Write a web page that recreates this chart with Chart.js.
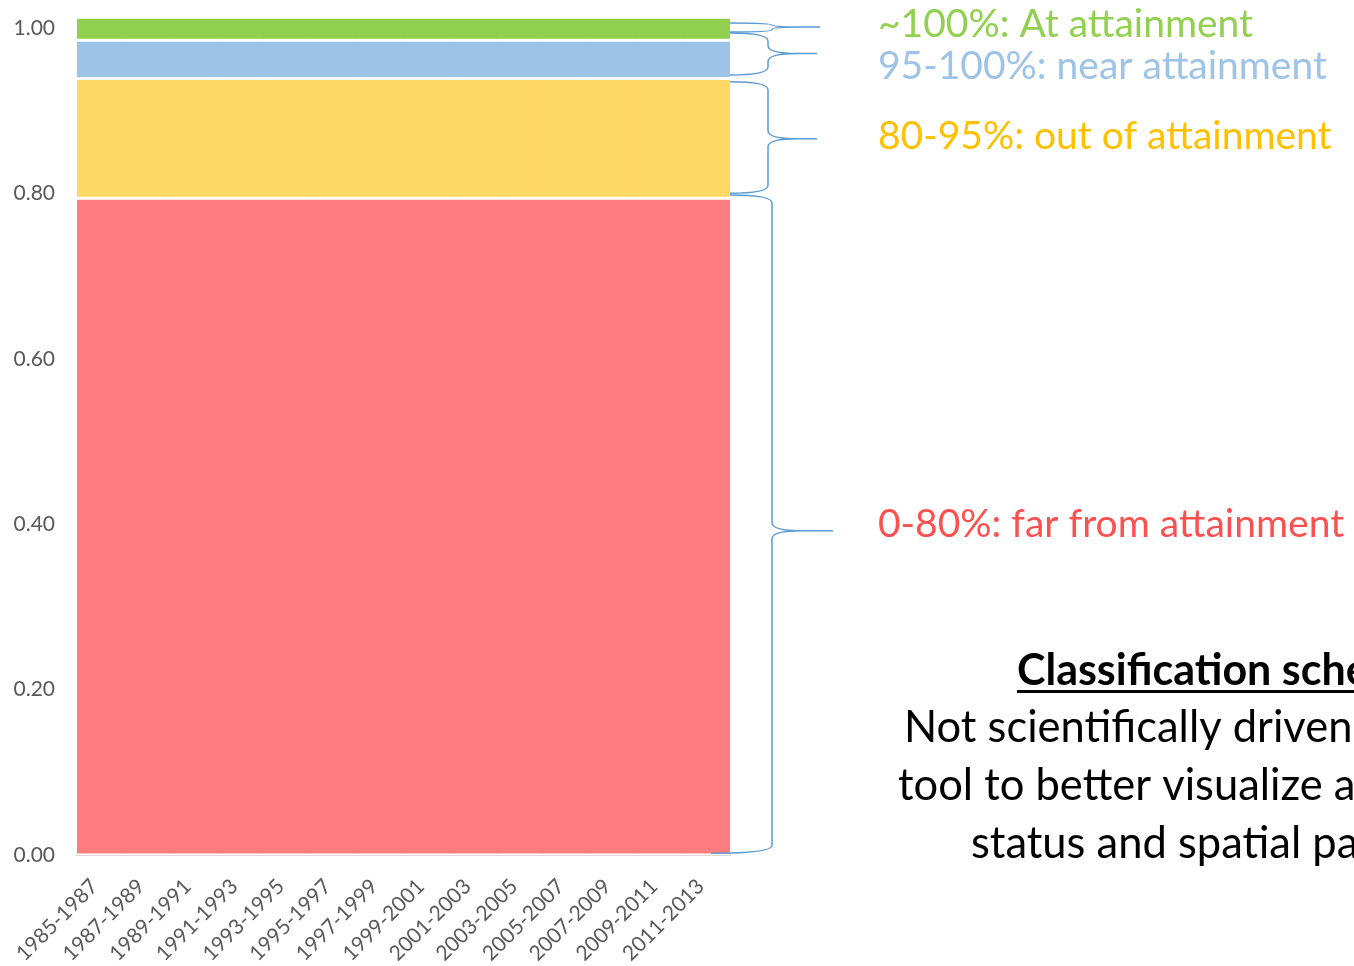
<!DOCTYPE html>
<html>
<head>
<meta charset="utf-8">
<script src="https://cdn.jsdelivr.net/npm/chart.js@4"></script>
<style>
  html, body { margin: 0; padding: 0; background: #ffffff; }
  #wrap { width: 1354px; height: 966px; position: relative; }
</style>
</head>
<body>
<div id="wrap"><canvas id="c" width="1354" height="966"></canvas></div>
<script>
// Two-year periods on the x axis
const periods = [
  '1985-1987', '1987-1989', '1989-1991', '1991-1993', '1993-1995',
  '1995-1997', '1997-1999', '1999-2001', '2001-2003', '2003-2005',
  '2005-2007', '2007-2009', '2009-2011', '2011-2013'
];

// Stacked class bands (fraction of attainment), bottom to top
const farFromAttainment = [0.794, 0.794, 0.794, 0.794, 0.794, 0.794, 0.794, 0.794, 0.794, 0.794, 0.794, 0.794, 0.794, 0.794];
const outOfAttainment   = [0.145, 0.145, 0.145, 0.145, 0.145, 0.145, 0.145, 0.145, 0.145, 0.145, 0.145, 0.145, 0.145, 0.145];
const nearAttainment    = [0.046, 0.046, 0.046, 0.046, 0.046, 0.046, 0.046, 0.046, 0.046, 0.046, 0.046, 0.046, 0.046, 0.046];
const atAttainment      = [0.028, 0.028, 0.028, 0.028, 0.028, 0.028, 0.028, 0.028, 0.028, 0.028, 0.028, 0.028, 0.028, 0.028];

// Value-axis tick marks
const yTickValues = [0, 0.2, 0.4, 0.6, 0.8, 1.0];

// Brace spans on the value axis (from, to, tip) for each class
const braceFrom = [1.006, 0.994, 0.935, 0.798];
const braceTo   = [0.995, 0.943, 0.800, 0.002];
const braceTip  = [1.001, 0.969, 0.866, 0.392];

// Class captions beside the braces
const classLabels = [
  '~100%: At attainment',
  '95-100%: near attainment',
  '80-95%: out of attainment',
  '0-80%: far from attainment'
];

const noteTitle = 'Classification scheme';
const noteLines = [
  'Not scientifically driven, just a',
  'tool to better visualize attainment',
  'status and spatial patterns'
];

const FONT = 'Lato, "Open Sans", "Noto Sans", sans-serif';
const bandColors = ['#FF7C80', '#FFD966', '#9DC3E6', '#92D050'];
const labelColors = ['#92D050', '#9DC3E6', '#FFC000', '#FF5050'];

function curlyBrace(ctx, x0Top, x0Bot, xv, xt, yTop, yBot, yMid) {
  const h = yBot - yTop;
  const r = Math.min(8, h / 4);
  const tr = Math.min(30, (xt - xv) * 0.6);
  ctx.beginPath();
  ctx.moveTo(x0Top, yTop);
  ctx.quadraticCurveTo(xv, yTop, xv, yTop + r);
  ctx.lineTo(xv, yMid - r);
  ctx.quadraticCurveTo(xv, yMid, xv + tr, yMid);
  ctx.lineTo(xt, yMid);
  ctx.moveTo(xv + tr, yMid);
  ctx.quadraticCurveTo(xv, yMid, xv, yMid + r);
  ctx.lineTo(xv, yBot - r);
  ctx.quadraticCurveTo(xv, yBot, x0Bot, yBot);
  ctx.stroke();
}

const annotations = {
  id: 'annotations',
  afterDraw(chart) {
    const ctx = chart.ctx;
    const y = chart.scales.y;
    const right = chart.chartArea.right;
    const geo = [
      { xv: right + 42, xt: right + 90, x0Bot: right },
      { xv: right + 38, xt: right + 87, x0Bot: right },
      { xv: right + 38, xt: right + 87, x0Bot: right },
      { xv: right + 42, xt: right + 103, x0Bot: right - 19 }
    ];
    ctx.save();
    ctx.strokeStyle = '#5B9BD5';
    ctx.lineWidth = 1.5;
    for (let i = 0; i < braceFrom.length; i++) {
      curlyBrace(ctx, right, geo[i].x0Bot, geo[i].xv, geo[i].xt,
        y.getPixelForValue(braceFrom[i]), y.getPixelForValue(braceTo[i]),
        y.getPixelForValue(braceTip[i]));
    }

    // Class captions
    ctx.font = '39px ' + FONT;
    ctx.textAlign = 'left';
    ctx.textBaseline = 'alphabetic';
    const baselines = [37, 79, 149, 537];
    for (let i = 0; i < classLabels.length; i++) {
      ctx.fillStyle = labelColors[i];
      ctx.fillText(classLabels[i], 878, baselines[i]);
    }

    // Note block
    ctx.fillStyle = '#000000';
    ctx.font = 'bold 43px ' + FONT;
    ctx.fillText(noteTitle, 1017, 685);
    const tw = ctx.measureText(noteTitle).width;
    ctx.fillRect(1017, 690, tw, 3);
    ctx.font = '43.5px ' + FONT;
    const starts = [904, 898, 971];
    const lineBase = [742, 800, 858];
    for (let i = 0; i < noteLines.length; i++) {
      ctx.fillText(noteLines[i], starts[i], lineBase[i]);
    }
    ctx.restore();
  }
};

const datasets = [farFromAttainment, outOfAttainment, nearAttainment, atAttainment].map((d, i) => ({
  label: classLabels[3 - i],
  data: d,
  backgroundColor: bandColors[i],
  borderColor: '#ffffff',
  borderWidth: { top: 1.5, bottom: 1.5, left: 0, right: 0 },
  borderSkipped: false,
  categoryPercentage: 1.0,
  barPercentage: 1.03
}));

new Chart(document.getElementById('c'), {
  type: 'bar',
  data: { labels: periods, datasets },
  options: {
    responsive: false,
    animation: false,
    devicePixelRatio: 1,
    layout: { padding: { left: 0, top: 11.4, right: 624, bottom: 0 } },
    plugins: { legend: { display: false }, tooltip: { enabled: false } },
    scales: {
      x: {
        stacked: true,
        grid: { display: false, drawTicks: false },
        border: { display: true, color: '#D9D9D9', width: 2 },
        ticks: {
          minRotation: 45, maxRotation: 45, autoSkip: false, padding: 19, labelOffset: -6,
          color: '#595959', font: { family: FONT, size: 21 }
        },
        afterFit(s) { s.height = 111; s.paddingLeft = 0; s.paddingRight = 0; }
      },
      y: {
        stacked: true,
        min: 0, max: 1.02,
        grid: { display: false, drawTicks: false },
        border: { display: false },
        ticks: {
          padding: 22,
          color: '#595959', font: { family: FONT, size: 21 },
          callback: v => Number(v).toFixed(2)
        },
        afterBuildTicks(s) {
          s.ticks = yTickValues.map(v => ({ value: v }));
        },
        afterFit(s) { s.width = 77; s.paddingTop = 0; s.paddingBottom = 0; }
      }
    }
  },
  plugins: [annotations]
});
</script>
</body>
</html>
